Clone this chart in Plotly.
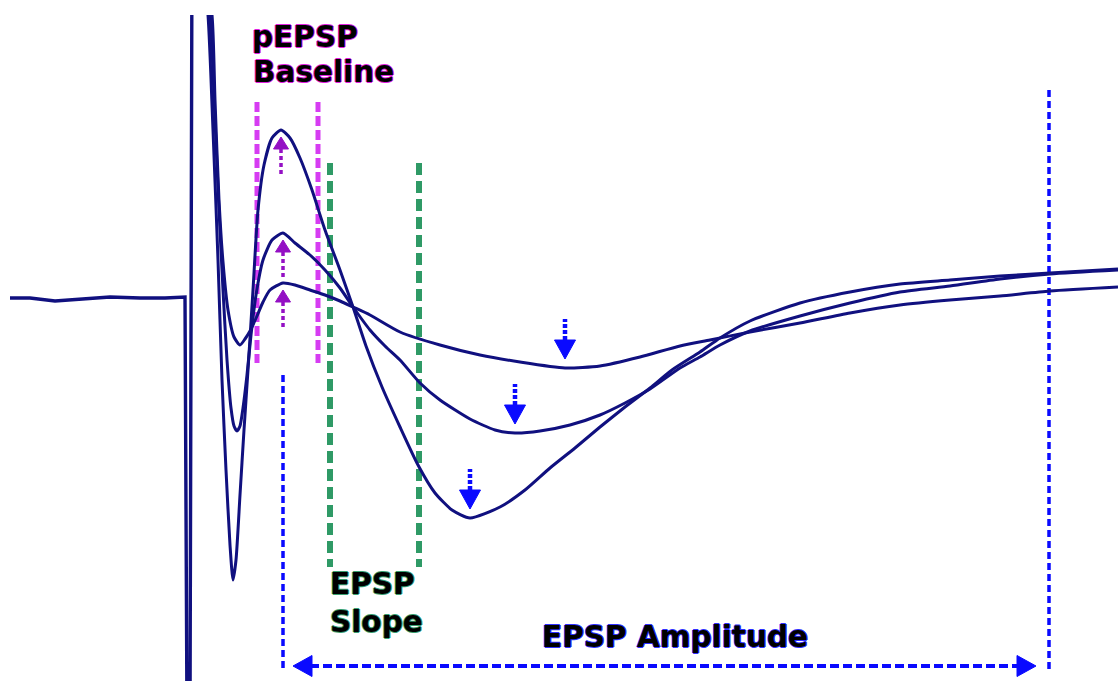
import plotly.graph_objects as go
import numpy as np

# ---------------- data (time in a.u., response relative to baseline in a.u.) ----------------
t_base = [10, 30, 55, 80, 110, 140, 165, 185, 187, 190, 192]
v_base = [0, 0, -3, -1, 1, 0, 0, 1, -422, -422, 358]

t_A = [200, 208, 213, 218, 222, 226, 230, 233, 236, 240, 244, 248, 253, 258, 264, 272, 281, 290,
       300, 312, 325, 340, 353, 366, 382, 400, 418, 435, 452, 470, 500, 525, 550, 575, 600, 625,
       650, 672, 700, 720, 750, 800, 850, 900, 950, 1000, 1050, 1118]
v_A = [358, 283, 168, 38, -82, -172, -247, -282, -262, -197, -132, -72, 8, 88, 133, 160, 168, 160,
       140, 108, 68, 28, -9, -48, -89, -129, -167, -195, -212, -220, -209, -192, -170, -150, -129, -109,
       -90, -72, -54, -40, -23, -5, 6, 14, 18, 22, 25, 29]

t_B = [200, 210, 215, 219, 223, 227, 231, 234, 237, 240, 243, 247, 251, 256, 263, 272, 283, 295,
       310, 325, 340, 353, 370, 385, 400, 420, 440, 470, 495, 515, 540, 570, 600, 625, 650, 680,
       700, 720, 750, 800, 850, 900, 950, 1000, 1050, 1118]
v_B = [358, 283, 178, 88, 8, -62, -110, -128, -133, -128, -110, -77, -37, 3, 38, 58, 65, 55,
       43, 28, 10, -9, -32, -48, -62, -85, -102, -121, -132, -135, -133, -127, -117, -105, -91, -70,
       -59, -47, -33, -18, -5, 6, 12, 19, 24, 28]

t_C = [200, 212, 215, 219, 223, 228, 234, 240, 245, 250, 257, 263, 270, 283, 295, 310, 325, 340,
       353, 370, 400, 440, 480, 520, 565, 600, 640, 680, 710, 750, 800, 850, 900, 950, 1000, 1050, 1118]
v_C = [358, 283, 198, 98, 36, -12, -39, -47, -41, -33, -18, -4, 8, 15, 13, 8, 3, -3,
       -9, -17, -34, -47, -57, -64, -70, -68, -59, -48, -42, -34, -25, -15, -7, -2, 2, 7, 11]

# analysis windows (time)
baseline_window = [257, 318]
slope_window = [330, 419]
amplitude_window = [283, 1049]

# ---------------- styles ----------------
NAVY = "#10107f"
MAGENTA = "#d63cf2"
PURPLE = "#9410c4"
GREEN = "#2f9a66"
BLUE = "#0a0aff"
FONT = "DejaVu Sans"

fig = go.Figure()

# stimulus artifact + baseline
fig.add_trace(go.Scatter(x=t_base, y=v_base, mode="lines",
                         line=dict(color=NAVY, width=3.4), hoverinfo="skip"))
for t, v in [(t_A, v_A), (t_B, v_B), (t_C, v_C)]:
    fig.add_trace(go.Scatter(x=t, y=v, mode="lines",
                             line=dict(color=NAVY, width=3, shape="spline", smoothing=0.6),
                             hoverinfo="skip"))

# ---------------- window lines ----------------
def vline(x, y0, y1, color, width, dash):
    fig.add_shape(type="line", xref="x", yref="y", x0=x, x1=x, y0=y0, y1=y1,
                  line=dict(color=color, width=width, dash=dash), layer="below")

for x in baseline_window:
    vline(x, 196, -65, MAGENTA, 5, "10px,4px")
for x in slope_window:
    vline(x, 135, -269, GREEN, 6, "12px,6px")
vline(amplitude_window[0], -77, -370, BLUE, 3.5, "7px,4px")
vline(amplitude_window[1], 208, -372, BLUE, 3.5, "7px,4px")


def triangle(xt, yt, direction, length, width, color):
    if direction == "up":
        xs = [xt, xt - width / 2, xt + width / 2, xt]
        ys = [yt, yt - length, yt - length, yt]
    elif direction == "down":
        xs = [xt, xt - width / 2, xt + width / 2, xt]
        ys = [yt, yt + length, yt + length, yt]
    elif direction == "left":
        xs = [xt, xt + length, xt + length, xt]
        ys = [yt, yt + width / 2, yt - width / 2, yt]
    else:
        xs = [xt, xt - length, xt - length, xt]
        ys = [yt, yt + width / 2, yt - width / 2, yt]
    fig.add_trace(go.Scatter(x=xs, y=ys, mode="lines", fill="toself", fillcolor=color,
                             line=dict(color=color, width=1), hoverinfo="skip"))


def stem(x0, y0, x1, y1, color, width, dash):
    fig.add_trace(go.Scatter(x=[x0, x1], y=[y0, y1], mode="lines",
                             line=dict(color=color, width=width, dash=dash), hoverinfo="skip"))


# ---------------- peak (pEPSP) arrows : up, purple ----------------
for t, v in [(t_A, v_A), (t_B, v_B), (t_C, v_C)]:
    ta = np.array(t); va = np.array(v)
    m = (ta > 260) & (ta < 320)
    i = np.argmax(np.where(m, va, -1e9))
    tip = va[i] - 7
    triangle(ta[i], tip, "up", 12, 15, PURPLE)
    stem(ta[i], tip - 12, ta[i], tip - 38, PURPLE, 3.5, "4px,3px")

# ---------------- trough (EPSP) arrows : down, blue ----------------
for t, v in [(t_A, v_A), (t_B, v_B), (t_C, v_C)]:
    ta = np.array(t); va = np.array(v)
    m = ta > 300
    i = np.argmin(np.where(m, va, 1e9))
    tip = va[i] + 9
    triangle(ta[i], tip, "down", 19, 21, BLUE)
    stem(ta[i], tip + 19, ta[i], tip + 40, BLUE, 4.5, "4px,2px")

# ---------------- amplitude double arrow ----------------
ya = -368
xl = amplitude_window[0] + 10
xr = amplitude_window[1] - 13
stem(xl + 17, ya, xr - 17, ya, BLUE, 4, "9px,4px")
triangle(xl, ya, "left", 19, 21, BLUE)
triangle(xr, ya, "right", 19, 21, BLUE)

# ---------------- labels ----------------
def halo(c):
    return f"1px 0 0 {c}, -1px 0 0 {c}, 0 1px 0 {c}, 0 -1px 0 {c}"

labels = [
    ("pEPSP", 250, 261, "#e020e0"),
    ("Baseline", 251, 226, "#e020e0"),
    ("EPSP", 328, -286, "#3aa070"),
    ("Slope", 328, -324, "#3aa070"),
    ("EPSP Amplitude", 540, -339, "#3030ff"),
]
for txt, x, y, c in labels:
    fig.add_annotation(x=x, y=y, xref="x", yref="y", text=txt, showarrow=False,
                       xanchor="left", yanchor="middle",
                       font=dict(family=FONT, size=29.5, color="black", weight="bold",
                                 shadow=halo(c)))

fig.update_layout(
    width=1118, height=681,
    margin=dict(l=0, r=0, t=15, b=0, pad=0),
    paper_bgcolor="white", plot_bgcolor="white",
    showlegend=False,
    xaxis=dict(range=[0, 1118], visible=False, fixedrange=True),
    yaxis=dict(range=[-383, 283], visible=False, fixedrange=True),
)

fig.write_html("out.html")
